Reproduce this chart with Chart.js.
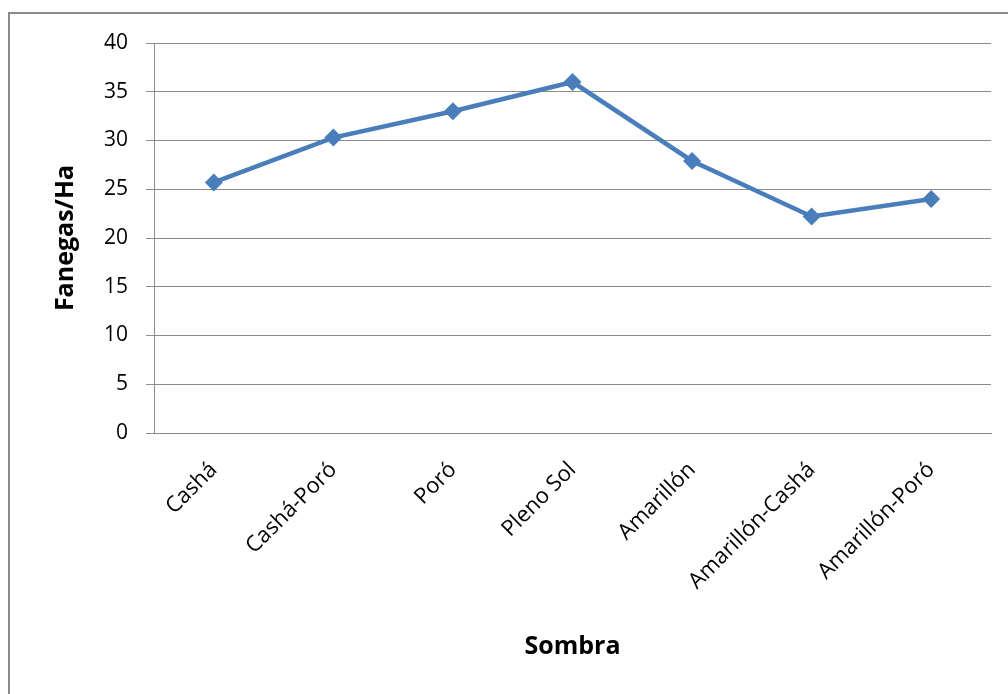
<!DOCTYPE html>
<html>
<head>
<meta charset="utf-8">
<script src="https://cdn.jsdelivr.net/npm/chart.js@4.4.1/dist/chart.umd.min.js"></script>
<style>
  html, body { margin: 0; padding: 0; background: #fff; overflow: hidden; }
  #frame {
    position: absolute; left: 8px; top: 12px; width: 1100px; height: 800px;
    border: 2px solid #8a8a8a; box-sizing: border-box;
  }
  #wrap { position: absolute; left: 0; top: 0; width: 1008px; height: 694px; }
</style>
</head>
<body>
<div id="frame"></div>
<div id="wrap"><canvas id="chart" width="1008" height="694"></canvas></div>
<script>
const categories = ['Cashá', 'Cashá-Poró', 'Poró', 'Pleno Sol', 'Amarillón', 'Amarillón-Cashá', 'Amarillón-Poró'];
const fanegas = [25.7, 30.3, 33.0, 36.0, 27.9, 22.2, 24.0];
const yTicks = [0, 5, 10, 15, 20, 25, 30, 35, 40];

const font = '"Open Sans", "DejaVu Sans", sans-serif';
const gridColor = '#8c8c8c';

new Chart(document.getElementById('chart'), {
  type: 'line',
  data: {
    labels: categories,
    datasets: [{
      label: 'Fanegas/Ha',
      data: fanegas,
      borderColor: '#4a7ebb',
      backgroundColor: '#4a7ebb',
      borderWidth: 4.5,
      pointStyle: 'rectRot',
      pointRadius: 9,
      pointHoverRadius: 9,
      pointBorderWidth: 0,
      tension: 0,
      fill: false,
    }],
  },
  options: {
    responsive: false,
    animation: false,
    layout: { padding: { left: 0, right: 17, top: 43, bottom: 0 } },
    plugins: {
      legend: { display: false },
      tooltip: { enabled: false },
    },
    scales: {
      x: {
        offset: true,
        grid: { display: false },
        border: { display: true, color: gridColor, width: 1 },
        ticks: {
          color: '#000',
          font: { family: font, size: 22 },
          minRotation: 45,
          maxRotation: 45,
          padding: 16,
        },
        title: {
          display: true,
          text: 'Sombra',
          color: '#000',
          font: { family: font, size: 25, weight: 'bold' },
          padding: { top: 0, bottom: 32 },
        },
        afterFit: (scale) => { scale.height = 261; },
      },
      y: {
        min: 0,
        max: 40,
        afterBuildTicks: (scale) => { scale.ticks = yTicks.map((v) => ({ value: v })); },
        grid: { color: gridColor, lineWidth: 1, tickLength: 8, drawTicks: true },
        border: { display: true, color: gridColor, width: 1 },
        ticks: {
          color: '#000',
          font: { family: font, size: 21 },
          padding: 18,
        },
        title: {
          display: true,
          text: 'Fanegas/Ha',
          color: '#000',
          font: { family: font, size: 25, weight: 'bold' },
          padding: { top: 51, bottom: 0 },
        },
        afterFit: (scale) => { scale.width = 154; },
      },
    },
  },
});
</script>
</body>
</html>
